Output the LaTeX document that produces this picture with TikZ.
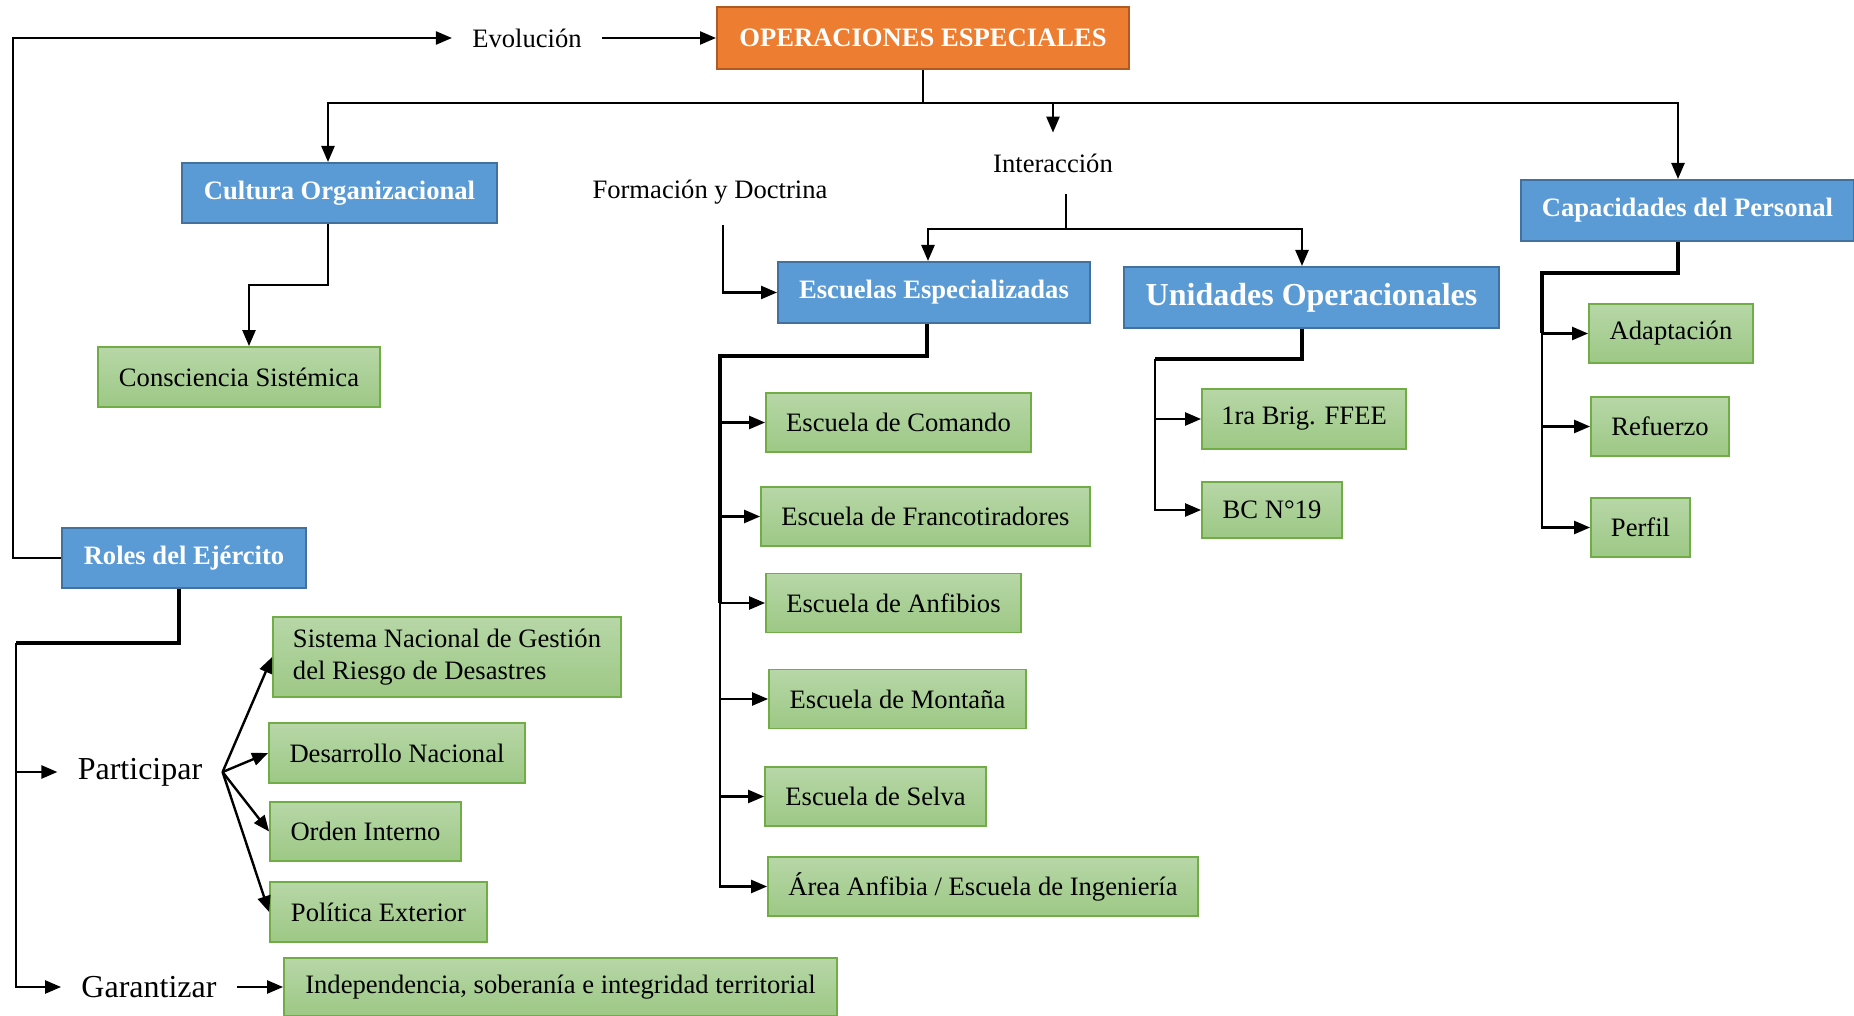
\documentclass[tikz,border=0pt]{standalone}
\usepackage{fontspec}
\setmainfont{Liberation Serif}
\usetikzlibrary{arrows.meta, positioning, calc}

\definecolor{bluefill}{RGB}{91,155,213}
\definecolor{bluedge}{RGB}{65,113,156}
\definecolor{orgfill}{RGB}{237,125,49}
\definecolor{orgedge}{RGB}{174,90,33}
\definecolor{grntop}{RGB}{183,215,167}
\definecolor{grnbot}{RGB}{157,200,133}
\definecolor{grnedge}{RGB}{112,173,71}

\tikzset{
    arr/.style={-{Triangle[length=8pt,width=6.5pt]}, line width=1.2pt},
    trunk/.style={line width=2pt},
    blubox/.style={draw=bluedge, fill=bluefill, line width=1pt, text=white, font=\fontsize{13.3}{16}\selectfont\bfseries, minimum height=30.5pt},
    grnbox/.style={draw=grnedge, top color=grntop, bottom color=grnbot, line width=0.9pt, minimum height=29.5pt},
    lbl/.style={inner xsep=10pt},
}

\begin{document}
\begin{tikzpicture}[x=0.5pt, y=-0.5pt, font=\fontsize{13.3}{16}\selectfont]
    \useasboundingbox (0,0) rectangle (1854,1016);

    \node[draw=orgedge, fill=orgfill, line width=1pt, text=white, font=\fontsize{13.3}{16}\selectfont\bfseries,
          minimum width=206pt, minimum height=31pt] (ops) at (923,38) {OPERACIONES ESPECIALES};
    \node[lbl] (evol) at (527,38) {Evolución};
    \node[lbl, minimum height=30.5pt] (inter) at (1053,163.5) {Interacción};
    \node[minimum height=33pt] (form) at (710,192) {Formación y Doctrina};

    \node[blubox, minimum width=157.5pt, minimum height=30pt] (cult) at (339.5,193) {Cultura Organizacional};
    \node[blubox, minimum width=156pt] (esc) at (934,292.5) {Escuelas Especializadas};
    \node[blubox, minimum width=187.5pt, font=\fontsize{16}{19}\selectfont\bfseries] (uni) at (1311.5,297.5) {Unidades Operacionales};
    \node[blubox, minimum width=166.5pt] (cap) at (1687.5,210.5) {Capacidades del Personal};
    \node[blubox, minimum width=122pt, minimum height=30pt] (roles) at (184,558) {Roles del Ejército};

    \node[grnbox, minimum width=141pt, minimum height=30pt] (consc) at (239,377) {Consciencia Sistémica};

    \node[grnbox, minimum width=132.5pt] (ecom) at (898.5,422.5) {Escuela de Comando};
    \node[grnbox, minimum width=164.5pt] (efra) at (925.5,516.5) {Escuela de Francotiradores};
    \node[grnbox, minimum width=127.5pt] (eanf) at (893.5,603) {Escuela de Anfibios};
    \node[grnbox, minimum width=128.5pt] (emon) at (897.5,699) {Escuela de Montaña};
    \node[grnbox, minimum width=110.5pt] (esel) at (875.5,796.5) {Escuela de Selva};
    \node[grnbox, minimum width=215pt] (eing) at (983,886.5) {Área Anfibia / Escuela de Ingeniería};

    \node[grnbox, minimum width=102pt, minimum height=30pt] (brig) at (1304,419) {1ra Brig. FFEE};
    \node[grnbox, minimum width=70pt, minimum height=28pt] (bc) at (1272,510) {BC N°19};

    \node[grnbox, minimum width=82pt] (adap) at (1671,333.5) {Adaptación};
    \node[grnbox, minimum width=69pt] (refu) at (1660,426.5) {Refuerzo};
    \node[grnbox, minimum width=49.5pt] (perf) at (1640.5,527.5) {Perfil};

    \node[lbl, font=\fontsize{16}{19}\selectfont] (partic) at (140,772) {Participar};
    \node[lbl, font=\fontsize{16}{19}\selectfont] (garan) at (149,987) {Garantizar};
    \node[grnbox, minimum width=174pt, minimum height=40pt, align=left] (sngr) at (447,657)
        {Sistema Nacional de Gestión\\del Riesgo de Desastres};
    \node[grnbox, minimum width=128pt, minimum height=30pt] (desa) at (397,753) {Desarrollo Nacional};
    \node[grnbox, minimum width=95.5pt] (orden) at (365.5,831.5) {Orden Interno};
    \node[grnbox, minimum width=108.5pt, minimum height=30pt] (poli) at (378.5,912) {Política Exterior};
    \node[grnbox, minimum width=276.5pt, minimum height=29pt] (indep) at (560.5,987)
        {Independencia, soberanía e integridad territorial};

    \coordinate (hub) at (923,103);
    \draw[line width=1.2pt] (ops.south) -- (hub);
    \draw[arr] (hub) -| ([xshift=-5.75pt]cult.north);
    \draw[arr] (hub) -| ([xshift=-4.75pt]cap.north);
    \draw[arr] (hub -| inter.north) -- (inter.north);
    \draw[arr] (evol.east) -- (ops.west);
    \draw[arr] (roles.west) -- ++(-48,0) |- (evol.west);

    \draw[arr] ([xshift=-5.75pt]cult.south) -- ++(0,61) -| ([xshift=5pt]consc.north);

    \coordinate (ij) at (1066,229);
    \draw[line width=1.2pt] ([xshift=6.5pt]inter.south) -- (ij);
    \draw[arr] (ij) -| ([xshift=-3pt]esc.north);
    \draw[arr] (ij) -| ([xshift=-4.75pt]uni.north);
    \draw[arr] ([xshift=6.5pt]form.south) |- (esc.west);

    \coordinate (etr) at (720,356);
    \draw[trunk] ([xshift=-3.5pt]esc.south) |- (etr) -- (etr |- eanf.west);
    \foreach \e in {ecom, efra, eanf, emon, esel, eing}
        \draw[arr] (etr) |- (\e.west);

    \coordinate (utr) at (1155,359);
    \draw[trunk] ([xshift=-4.75pt]uni.south) |- (utr);
    \foreach \e in {brig, bc}
        \draw[arr] (utr) |- (\e.west);

    \coordinate (ctr) at (1542,273);
    \draw[trunk] ([xshift=-4.75pt]cap.south) |- (ctr) -- (ctr |- adap.west);
    \foreach \e in {adap, refu, perf}
        \draw[arr] (ctr) |- (\e.west);

    \coordinate (rtr) at (16,643);
    \draw[trunk] ([xshift=-2.5pt]roles.south) |- (rtr);
    \draw[arr] (rtr) |- (partic.west);
    \draw[arr] (rtr) |- (garan.west);
    \foreach \e in {sngr, desa, orden, poli}
        \draw[arr] (partic.east) -- (\e.west);
    \draw[arr] (garan.east) -- (indep.west);
\end{tikzpicture}
\end{document}
